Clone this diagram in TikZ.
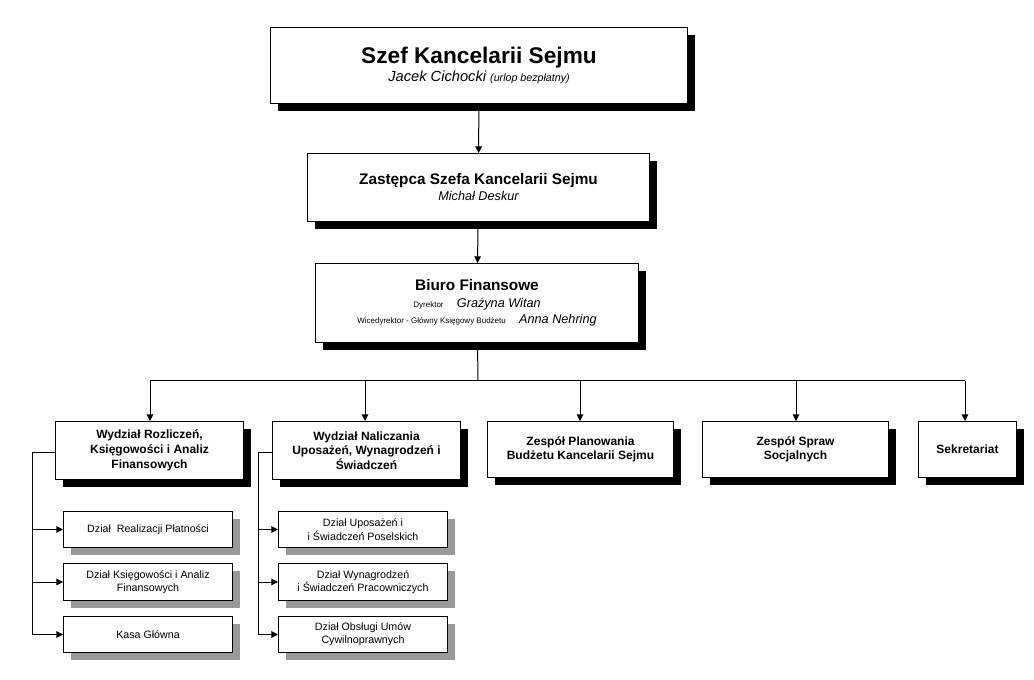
\documentclass[tikz,border=0pt]{standalone}
\usepackage{fontspec}
\setmainfont{Liberation Sans}
\usetikzlibrary{arrows.meta,positioning,shadows}

\begin{document}
\begin{tikzpicture}[
    x=0.75pt, y=-0.75pt,
    big/.style={draw, fill=white, align=center, anchor=north west, inner sep=0pt, line width=0.75pt,
        drop shadow={shadow xshift=5.5pt, shadow yshift=-5.5pt, fill=black, opacity=1}},
    small/.style={draw, fill=white, align=center, anchor=north west, inner sep=0pt, line width=0.75pt,
        font=\fontsize{8}{10}\selectfont,
        drop shadow={shadow xshift=5.5pt, shadow yshift=-5.5pt, fill=black!40, opacity=1}},
    arrow/.style={-{Triangle[length=5pt,width=5pt]}, line width=0.75pt},
    line/.style={line width=0.75pt}
]
    \useasboundingbox (0,0) rectangle (1034,680);

    \node[big, minimum width=312.75pt, minimum height=57pt] (szef) at (270,27)
        {{\fontsize{17}{20}\selectfont\bfseries Szef Kancelarii Sejmu}\\[2pt]
         {\fontsize{11}{13}\selectfont\itshape Jacek Cichocki {\fontsize{8}{10}\selectfont(urlop bezpłatny)}}};
    \node[big, minimum width=256.5pt, minimum height=51pt] (zastepca) at (307,153)
        {{\fontsize{11.5}{14}\selectfont\bfseries Zastępca Szefa Kancelarii Sejmu}\\
         {\fontsize{9.5}{11}\selectfont\itshape Michał Deskur}};
    \node[big, minimum width=242.25pt, minimum height=59.25pt] (biuro) at (315,263)
        {{\fontsize{11.5}{14}\selectfont\bfseries Biuro Finansowe}\\[1pt]
         {\fontsize{6}{8}\selectfont Dyrektor}\quad{\fontsize{9.5}{11}\selectfont\itshape Grażyna Witan}\\
         {\fontsize{6}{8}\selectfont Wicedyrektor - Główny Księgowy Budżetu}\quad{\fontsize{9.5}{11}\selectfont\itshape Anna Nehring}};

    % wydzialy
    \begin{scope}[every node/.append style={font=\fontsize{9}{11}\selectfont\bfseries}]
        \node[big, minimum width=141pt, minimum height=43.5pt] (rozliczen) at (55,421)
            {Wydział Rozliczeń,\\Księgowości i Analiz\\Finansowych};
        \node[big, minimum width=141pt, minimum height=43.5pt] (naliczania) at (272,421)
            {Wydział Naliczania\\Uposażeń, Wynagrodzeń i\\Świadczeń};
        \node[big, minimum width=139.5pt, minimum height=42pt] (planowania) at (487,421)
            {Zespół Planowania\\Budżetu Kancelarii Sejmu};
        \node[big, minimum width=139.5pt, minimum height=42pt] (socjalnych) at (702,421)
            {Zespół Spraw\\Socjalnych};
        \node[big, minimum width=73.5pt, minimum height=42pt] (sekretariat) at (918,421)
            {Sekretariat};
    \end{scope}

    % dzialy
    \node[small, minimum width=126.75pt, minimum height=27pt] (realizacji) at (63,511) {Dział\ \ Realizacji Płatności};
    \node[small, minimum width=126.75pt, minimum height=27.75pt] (ksiegowosci) at (63,563) {Dział Księgowości i Analiz\\Finansowych};
    \node[small, minimum width=126.75pt, minimum height=27pt] (kasa) at (63,616) {Kasa Główna};
    \node[small, minimum width=126.75pt, minimum height=27pt] (poselskich) at (278,511) {Dział Uposażeń i\\i Świadczeń Poselskich};
    \node[small, minimum width=126.75pt, minimum height=27.75pt] (pracowniczych) at (278,563) {Dział Wynagrodzeń\\i Świadczeń Pracowniczych};
    \node[small, minimum width=126.75pt, minimum height=27pt] (umow) at (278,616) {Dział Obsługi Umów\\Cywilnoprawnych};

    \coordinate (hub) at (478,381);
    \coordinate (lrail) at (32,452);
    \coordinate (mrail) at (258,452);

    \draw[arrow] (szef) -- (zastepca);
    \draw[arrow] (zastepca) -- (biuro);
    \draw[line] (biuro) -- (hub);
    \draw[line] (150,381) -- (965,381);
    \foreach \n/\x in {rozliczen/150, naliczania/365, planowania/580, socjalnych/796, sekretariat/965}
        \draw[arrow] (\x,381) -- (\n.north -| \x,0);

    \draw[line] (rozliczen.west |- lrail) -- (lrail) -- (lrail |- kasa.west);
    \foreach \n in {realizacji, ksiegowosci, kasa}
        \draw[arrow] (lrail |- \n.west) -- (\n.west);
    \draw[line] (naliczania.west |- mrail) -- (mrail) -- (mrail |- umow.west);
    \foreach \n in {poselskich, pracowniczych, umow}
        \draw[arrow] (mrail |- \n.west) -- (\n.west);
\end{tikzpicture}
\end{document}
